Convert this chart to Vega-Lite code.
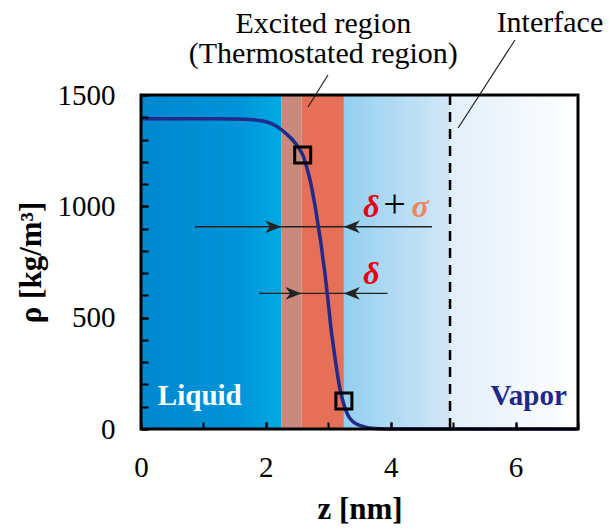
{
  "$schema": "https://vega.github.io/schema/vega-lite/v6.json",
  "width": 437,
  "height": 334,
  "autosize": "none",
  "padding": {"left": 141, "top": 95, "right": 34, "bottom": 99},
  "background": "white",
  "config": {
    "view": {"stroke": null},
    "font": "Liberation Serif",
    "axis": {
      "domain": false,
      "grid": false,
      "labelFont": "Liberation Serif",
      "labelFontSize": 29,
      "labelColor": "black",
      "tickColor": "black",
      "tickWidth": 2,
      "titleFont": "Liberation Serif",
      "titleFontSize": 31,
      "titleFontWeight": "bold",
      "titleColor": "black"
    }
  },
  "resolve": {"axis": {"x": "independent", "y": "independent"}},
  "layer": [
    {
      "layer": [
        {
          "data": {"values": [{"region": "Liquid", "z0": 0, "z1": 2.245}]},
          "mark": {"type": "rect", "fill": {"gradient": "linear", "x1": 0, "x2": 1, "y1": 0, "y2": 0, "stops": [{"offset": 0, "color": "#0087cf"}, {"offset": 0.7, "color": "#0094d8"}, {"offset": 1, "color": "#00aae4"}]}},
          "encoding": {
            "x": {"field": "z0", "type": "quantitative", "scale": {"domain": [0, 7], "nice": false},
              "axis": {"values": [0, 2, 4, 6], "format": "d", "title": "z [nm]", "orient": "bottom", "zindex": 1, "offset": -7, "ticks": true, "tickSize": 7, "labelPadding": 24, "titlePadding": 12, "labelFlush": false}},
            "x2": {"field": "z1"},
            "y": {"datum": 0, "type": "quantitative", "scale": {"domain": [0, 1500], "nice": false},
              "axis": {"values": [0, 500, 1000, 1500], "format": "d", "title": "ρ [kg/m³]", "orient": "left", "zindex": 1, "offset": -7, "ticks": true, "tickSize": 7, "labelPadding": 26, "titlePadding": 10, "labelFlush": false}},
            "y2": {"datum": 1500}
          }
        },
        {
          "data": {"values": [{"region": "Excited outer", "z0": 2.245, "z1": 2.575}]},
          "mark": {"type": "rect", "fill": "#c78a7c"},
          "encoding": {
            "x": {"field": "z0", "type": "quantitative", "scale": {"domain": [0, 7], "nice": false}},
            "x2": {"field": "z1"}
          }
        },
        {
          "data": {"values": [{"region": "Excited inner", "z0": 2.575, "z1": 3.25}]},
          "mark": {"type": "rect", "fill": "#e56f57"},
          "encoding": {
            "x": {"field": "z0", "type": "quantitative", "scale": {"domain": [0, 7], "nice": false}},
            "x2": {"field": "z1"}
          }
        },
        {
          "data": {"values": [{"region": "Gas side near", "z0": 3.25, "z1": 4.95}]},
          "mark": {"type": "rect", "fill": {"gradient": "linear", "x1": 0, "x2": 1, "y1": 0, "y2": 0, "stops": [{"offset": 0, "color": "#93cff0"}, {"offset": 1, "color": "#d2e7f6"}]}},
          "encoding": {
            "x": {"field": "z0", "type": "quantitative", "scale": {"domain": [0, 7], "nice": false}},
            "x2": {"field": "z1"}
          }
        },
        {
          "data": {"values": [{"region": "Gas side far", "z0": 4.95, "z1": 7}]},
          "mark": {"type": "rect", "fill": {"gradient": "linear", "x1": 0, "x2": 1, "y1": 0, "y2": 0, "stops": [{"offset": 0, "color": "#e2effa"}, {"offset": 1, "color": "#ffffff"}]}},
          "encoding": {
            "x": {"field": "z0", "type": "quantitative", "scale": {"domain": [0, 7], "nice": false}},
            "x2": {"field": "z1"}
          }
        },
        {
          "data": {"values": [{"z": 4.95}]},
          "mark": {"type": "rule", "color": "black", "strokeWidth": 2.5, "strokeDash": [10, 7]},
          "encoding": {
            "x": {"field": "z", "type": "quantitative", "scale": {"domain": [0, 7], "nice": false}}
          }
        },
        {
          "data": {"values": [{"z0": 0.865, "z1": 4.66, "rho": 908}, {"z0": 1.89, "z1": 3.95, "rho": 609}]},
          "mark": {"type": "rule", "color": "#222222", "strokeWidth": 1.4},
          "encoding": {
            "x": {"field": "z0", "type": "quantitative", "scale": {"domain": [0, 7], "nice": false}},
            "x2": {"field": "z1"},
            "y": {"field": "rho", "type": "quantitative", "scale": {"domain": [0, 1500], "nice": false}}
          }
        },
        {
          "data": {"values": [{"z": 2.245, "rho": 908}, {"z": 2.57, "rho": 609}]},
          "mark": {"type": "point", "shape": "M0,0L-1,-0.4L-0.7,0L-1,0.4Z", "size": 1024, "filled": true, "color": "#222222", "opacity": 1, "strokeWidth": 0},
          "encoding": {
            "x": {"field": "z", "type": "quantitative", "scale": {"domain": [0, 7], "nice": false}},
            "y": {"field": "rho", "type": "quantitative", "scale": {"domain": [0, 1500], "nice": false}}
          }
        },
        {
          "data": {"values": [{"z": 3.25, "rho": 908}, {"z": 3.25, "rho": 609}]},
          "mark": {"type": "point", "shape": "M0,0L1,-0.4L0.7,0L1,0.4Z", "size": 1024, "filled": true, "color": "#222222", "opacity": 1, "strokeWidth": 0},
          "encoding": {
            "x": {"field": "z", "type": "quantitative", "scale": {"domain": [0, 7], "nice": false}},
            "y": {"field": "rho", "type": "quantitative", "scale": {"domain": [0, 1500], "nice": false}}
          }
        },
        {
          "data": {"values": [
            {"z": 0, "rho": 1393}, {"z": 1.0, "rho": 1393}, {"z": 1.5, "rho": 1392}, {"z": 1.8, "rho": 1389},
            {"z": 1.9, "rho": 1385}, {"z": 2.0, "rho": 1380}, {"z": 2.1, "rho": 1370}, {"z": 2.22, "rho": 1350},
            {"z": 2.33, "rho": 1325}, {"z": 2.43, "rho": 1298}, {"z": 2.52, "rho": 1265}, {"z": 2.59, "rho": 1231},
            {"z": 2.66, "rho": 1170}, {"z": 2.72, "rho": 1103}, {"z": 2.76, "rho": 1045}, {"z": 2.8, "rho": 983},
            {"z": 2.84, "rho": 909}, {"z": 2.88, "rho": 840}, {"z": 2.91, "rho": 775}, {"z": 2.95, "rho": 690},
            {"z": 2.98, "rho": 615}, {"z": 3.01, "rho": 540}, {"z": 3.04, "rho": 460}, {"z": 3.08, "rho": 375},
            {"z": 3.12, "rho": 295}, {"z": 3.17, "rho": 205}, {"z": 3.2, "rho": 162}, {"z": 3.23, "rho": 130},
            {"z": 3.28, "rho": 85}, {"z": 3.33, "rho": 55}, {"z": 3.4, "rho": 32}, {"z": 3.49, "rho": 18},
            {"z": 3.6, "rho": 8}, {"z": 3.7, "rho": 3}, {"z": 3.85, "rho": 1}, {"z": 4.0, "rho": 0},
            {"z": 5.0, "rho": 0}, {"z": 7.0, "rho": 0}
          ]},
          "mark": {"type": "line", "color": "#21298a", "strokeWidth": 3.5, "interpolate": "monotone"},
          "encoding": {
            "x": {"field": "z", "type": "quantitative", "scale": {"domain": [0, 7], "nice": false}},
            "y": {"field": "rho", "type": "quantitative", "scale": {"domain": [0, 1500], "nice": false}}
          }
        },
        {
          "data": {"values": [{"z": 2.59, "rho": 1231}, {"z": 3.25, "rho": 126}]},
          "mark": {"type": "point", "shape": "square", "size": 256, "filled": false, "color": "black", "strokeWidth": 3, "opacity": 1},
          "encoding": {
            "x": {"field": "z", "type": "quantitative", "scale": {"domain": [0, 7], "nice": false}},
            "y": {"field": "rho", "type": "quantitative", "scale": {"domain": [0, 1500], "nice": false}}
          }
        },
        {
          "data": {"values": [{"z0": 2.675, "rho0": 1446, "z1": 2.995, "rho1": 1590}, {"z0": 5.08, "rho0": 1352, "z1": 5.99, "rho1": 1747}]},
          "mark": {"type": "rule", "color": "#222222", "strokeWidth": 1.2},
          "encoding": {
            "x": {"field": "z0", "type": "quantitative", "scale": {"domain": [0, 7], "nice": false}},
            "x2": {"field": "z1"},
            "y": {"field": "rho0", "type": "quantitative", "scale": {"domain": [0, 1500], "nice": false}},
            "y2": {"field": "rho1"}
          }
        },
        {
          "data": {"values": [{"label": "Liquid", "z": 0.27, "rho": 108}]},
          "mark": {"type": "text", "align": "left", "baseline": "alphabetic", "fontSize": 29, "fontWeight": "bold", "font": "Liberation Serif", "color": "white"},
          "encoding": {
            "x": {"field": "z", "type": "quantitative", "scale": {"domain": [0, 7], "nice": false}},
            "y": {"field": "rho", "type": "quantitative", "scale": {"domain": [0, 1500], "nice": false}},
            "text": {"field": "label"}
          }
        },
        {
          "data": {"values": [{"label": "Vapor", "z": 6.82, "rho": 108}]},
          "mark": {"type": "text", "align": "right", "baseline": "alphabetic", "fontSize": 29, "fontWeight": "bold", "font": "Liberation Serif", "color": "#1f2a88"},
          "encoding": {
            "x": {"field": "z", "type": "quantitative", "scale": {"domain": [0, 7], "nice": false}},
            "y": {"field": "rho", "type": "quantitative", "scale": {"domain": [0, 1500], "nice": false}},
            "text": {"field": "label"}
          }
        },
        {
          "data": {"values": [{"label": "δ", "z": 3.69, "rho": 952}, {"label": "δ", "z": 3.69, "rho": 651}]},
          "mark": {"type": "text", "align": "center", "baseline": "alphabetic", "fontSize": 32, "fontWeight": "bold", "fontStyle": "italic", "font": "Liberation Serif", "color": "#e60012"},
          "encoding": {
            "x": {"field": "z", "type": "quantitative", "scale": {"domain": [0, 7], "nice": false}},
            "y": {"field": "rho", "type": "quantitative", "scale": {"domain": [0, 1500], "nice": false}},
            "text": {"field": "label"}
          }
        },
        {
          "data": {"values": [{"label": "+", "z": 4.06, "rho": 952}]},
          "mark": {"type": "text", "align": "center", "baseline": "alphabetic", "fontSize": 40, "font": "Liberation Serif", "color": "black"},
          "encoding": {
            "x": {"field": "z", "type": "quantitative", "scale": {"domain": [0, 7], "nice": false}},
            "y": {"field": "rho", "type": "quantitative", "scale": {"domain": [0, 1500], "nice": false}},
            "text": {"field": "label"}
          }
        },
        {
          "data": {"values": [{"label": "σ", "z": 4.47, "rho": 952}]},
          "mark": {"type": "text", "align": "center", "baseline": "alphabetic", "fontSize": 32, "fontWeight": "bold", "fontStyle": "italic", "font": "Liberation Serif", "color": "#f0845a"},
          "encoding": {
            "x": {"field": "z", "type": "quantitative", "scale": {"domain": [0, 7], "nice": false}},
            "y": {"field": "rho", "type": "quantitative", "scale": {"domain": [0, 1500], "nice": false}},
            "text": {"field": "label"}
          }
        },
        {
          "data": {"values": [{"label": "Excited region", "z": 2.92, "rho": 1778}, {"label": "(Thermostated region)", "z": 2.92, "rho": 1644}, {"label": "Interface", "z": 6.55, "rho": 1783}]},
          "mark": {"type": "text", "align": "center", "baseline": "alphabetic", "fontSize": 30, "font": "Liberation Serif", "color": "black"},
          "encoding": {
            "x": {"field": "z", "type": "quantitative", "scale": {"domain": [0, 7], "nice": false}},
            "y": {"field": "rho", "type": "quantitative", "scale": {"domain": [0, 1500], "nice": false}},
            "text": {"field": "label"}
          }
        }
      ]
    },
    {
      "data": {"values": [{"z0": 0, "z1": 7, "rho0": 0, "rho1": 1500}]},
      "mark": {"type": "rect", "fill": null, "fillOpacity": 0, "stroke": "black", "strokeWidth": 3},
      "encoding": {
        "x": {"field": "z0", "type": "quantitative", "scale": {"domain": [0, 7], "nice": false},
          "axis": {"values": [0, 1, 2, 3, 4, 5, 6, 7], "labels": false, "title": null, "orient": "bottom", "zindex": 1, "offset": -7, "ticks": true, "tickSize": 7}},
        "x2": {"field": "z1"},
        "y": {"field": "rho0", "type": "quantitative", "scale": {"domain": [0, 1500], "nice": false},
          "axis": {"values": [0, 100, 200, 300, 400, 500, 600, 700, 800, 900, 1000, 1100, 1200, 1300, 1400, 1500], "labels": false, "title": null, "orient": "left", "zindex": 1, "offset": -7, "ticks": true, "tickSize": 7}},
        "y2": {"field": "rho1"}
      }
    }
  ]
}
